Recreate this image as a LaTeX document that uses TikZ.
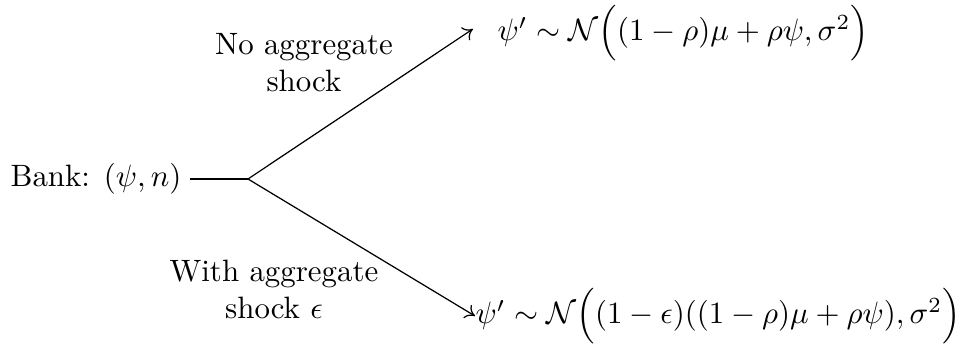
\documentclass[tikz,border=0pt]{standalone}
\usepackage{amsmath}
\usetikzlibrary{arrows.meta}
\begin{document}
\begin{tikzpicture}[x=0.3235pt,y=-0.3235pt,
  lbl/.style={align=center,inner sep=0pt},
  arr/.style={-{To[length=3pt,width=5pt]},thin},
  seg/.style={thin}]
\useasboundingbox (0,0) rectangle (964,358);
\node[anchor=east,inner sep=0pt] (bank) at (182,179) {Bank: $(\psi,n)$};
\coordinate (j) at (248,179);
\coordinate (bs) at (190,179);
\node[anchor=west,inner sep=0pt] (top) at (497,33) {$\psi' \sim \mathcal{N}\Big((1-\rho)\mu+\rho\psi,\sigma^2\Big)$};
\node[anchor=west,inner sep=0pt] (bot) at (475,316) {$\psi' \sim \mathcal{N}\Big((1-\epsilon)((1-\rho)\mu+\rho\psi),\sigma^2\Big)$};
\coordinate (ta) at ([xshift=-7.8pt,yshift=1.3pt]top.west);
\coordinate (ba) at (bot.west);
\draw[seg] (bs) -- (j);
\draw[arr] (j) -- (ta);
\draw[arr] (j) -- (ba);
\node[lbl] (l1) at (304,63) {No aggregate\\shock};
\node[lbl] (l2) at (274,289) {With aggregate\\shock $\epsilon$};
\end{tikzpicture}
\end{document}
